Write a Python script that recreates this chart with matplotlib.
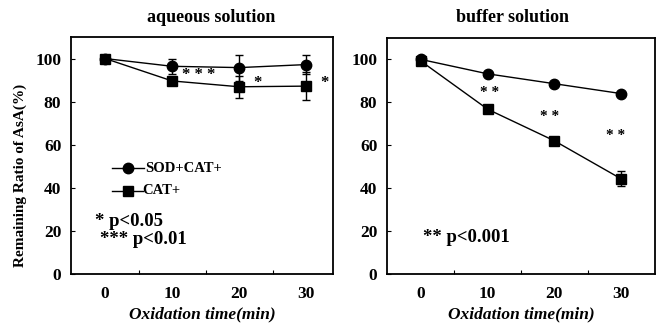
import matplotlib
matplotlib.use("Agg")
import matplotlib.pyplot as plt
import numpy as np

plt.rcParams['font.family'] = ['Liberation Serif', 'DejaVu Serif']
plt.rcParams['font.weight'] = 'bold'

time = [0, 10, 20, 30]
xtick_labels = ['0', '10', '20', '30']
yticks = [0, 20, 40, 60, 80, 100]

# aqueous solution
aq_sod = [100, 96.4, 95.8, 97.2]
aq_sod_err = [0, 3.5, 6.0, 4.5]
aq_cat = [100, 89.6, 86.9, 87.2]
aq_cat_err = [0, 1.0, 5.0, 6.5]

# buffer solution
bf_sod = [100, 93.3, 88.7, 84.1]
bf_sod_err = [0, 0.5, 0.5, 0.8]
bf_cat = [99.2, 76.8, 62.1, 44.4]
bf_cat_err = [0, 0.8, 1.5, 3.5]

W, H = 661, 327
fig = plt.figure(figsize=(W/100, H/100), dpi=100)

def ax_at(l, t, r, b):
    return fig.add_axes([l/W, 1 - b/H, (r-l)/W, (b-t)/H])

axL = ax_at(71, 37, 333, 274)
axR = ax_at(387, 38, 655, 274)

def style(ax, xmax):
    ax.set_xlim(-5.1, xmax)
    ax.set_ylim(0, 110)
    for s in ax.spines.values():
        s.set_linewidth(1.3)
    ax.set_yticks(yticks)
    ax.set_yticklabels([str(v) for v in yticks], fontsize=12.5, fontweight='bold')
    ax.set_xticks([5, 15, 25])
    ax.set_xticklabels([])
    ax.set_xticks(time, minor=True)
    ax.set_xticklabels(xtick_labels, minor=True, fontsize=12.5, fontweight='bold')
    ax.tick_params(axis='x', which='major', direction='in', length=3, width=0.8)
    ax.tick_params(axis='x', which='minor', length=0, pad=9)
    ax.tick_params(axis='y', direction='in', length=3, width=0.8, pad=7)
    ax.set_xlabel('Oxidation time(min)', fontsize=12.5, fontweight='bold', style='italic', labelpad=3)

def draw(ax, sod, sode, cat, cate):
    ax.errorbar(time, sod, yerr=sode, color='black', marker='o', markersize=7.5,
                lw=1.0, capsize=3, elinewidth=1.0, capthick=1.0, label='SOD+CAT+')
    ax.errorbar(time, cat, yerr=cate, color='black', marker='s', markersize=7.5,
                lw=1.0, capsize=3, elinewidth=1.0, capthick=1.0, label='CAT+')

style(axL, 34.0)
style(axR, 35.1)
draw(axL, aq_sod, aq_sod_err, aq_cat, aq_cat_err)
draw(axR, bf_sod, bf_sod_err, bf_cat, bf_cat_err)

fig.text(20/W, 1 - 175/H, 'Remaining Ratio of AsA(%)', fontsize=11, fontweight='bold',
         rotation=90, ha='center', va='center')

# legend (drawn manually inside axes)
axL.plot([1.0, 5.8], [49, 49], color='black', lw=1.0)
axL.plot([3.4], [49], marker='o', color='black', markersize=7.5)
axL.text(6.0, 49, 'SOD+CAT+', fontsize=10.5, fontweight='bold', va='center', ha='left')
axL.plot([1.0, 5.6], [38.6, 38.6], color='black', lw=1.0)
axL.plot([3.4], [38.6], marker='s', color='black', markersize=7.5)
axL.text(5.6, 38.6, 'CAT+', fontsize=10.5, fontweight='bold', va='center', ha='left')

axL.text(-1.5, 24.2, '* p<0.05', fontsize=13.5, fontweight='bold', va='center', ha='left')
axL.text(-0.8, 16.1, '*** p<0.01', fontsize=13.5, fontweight='bold', va='center', ha='left')
axL.text(14.0, 92.5, '* * *', fontsize=12, fontweight='bold', va='center', ha='center')
axL.text(22.7, 88.5, '*', fontsize=12, fontweight='bold', va='center', ha='center')
axL.text(32.8, 88.5, '*', fontsize=12, fontweight='bold', va='center', ha='center')

axR.text(10.3, 84.5, '* *', fontsize=11, fontweight='bold', va='center', ha='center')
axR.text(19.3, 73.5, '* *', fontsize=11, fontweight='bold', va='center', ha='center')
axR.text(29.2, 64.5, '* *', fontsize=11, fontweight='bold', va='center', ha='center')
axR.text(0.3, 17.0, '** p<0.001', fontsize=13.5, fontweight='bold', va='center', ha='left')

fig.text(211/W, 1 - 17/H, 'aqueous solution', fontsize=13, fontweight='bold', ha='center', va='center')
fig.text(513/W, 1 - 17/H, 'buffer solution', fontsize=13, fontweight='bold', ha='center', va='center')

fig.savefig('out.png', dpi=100)
